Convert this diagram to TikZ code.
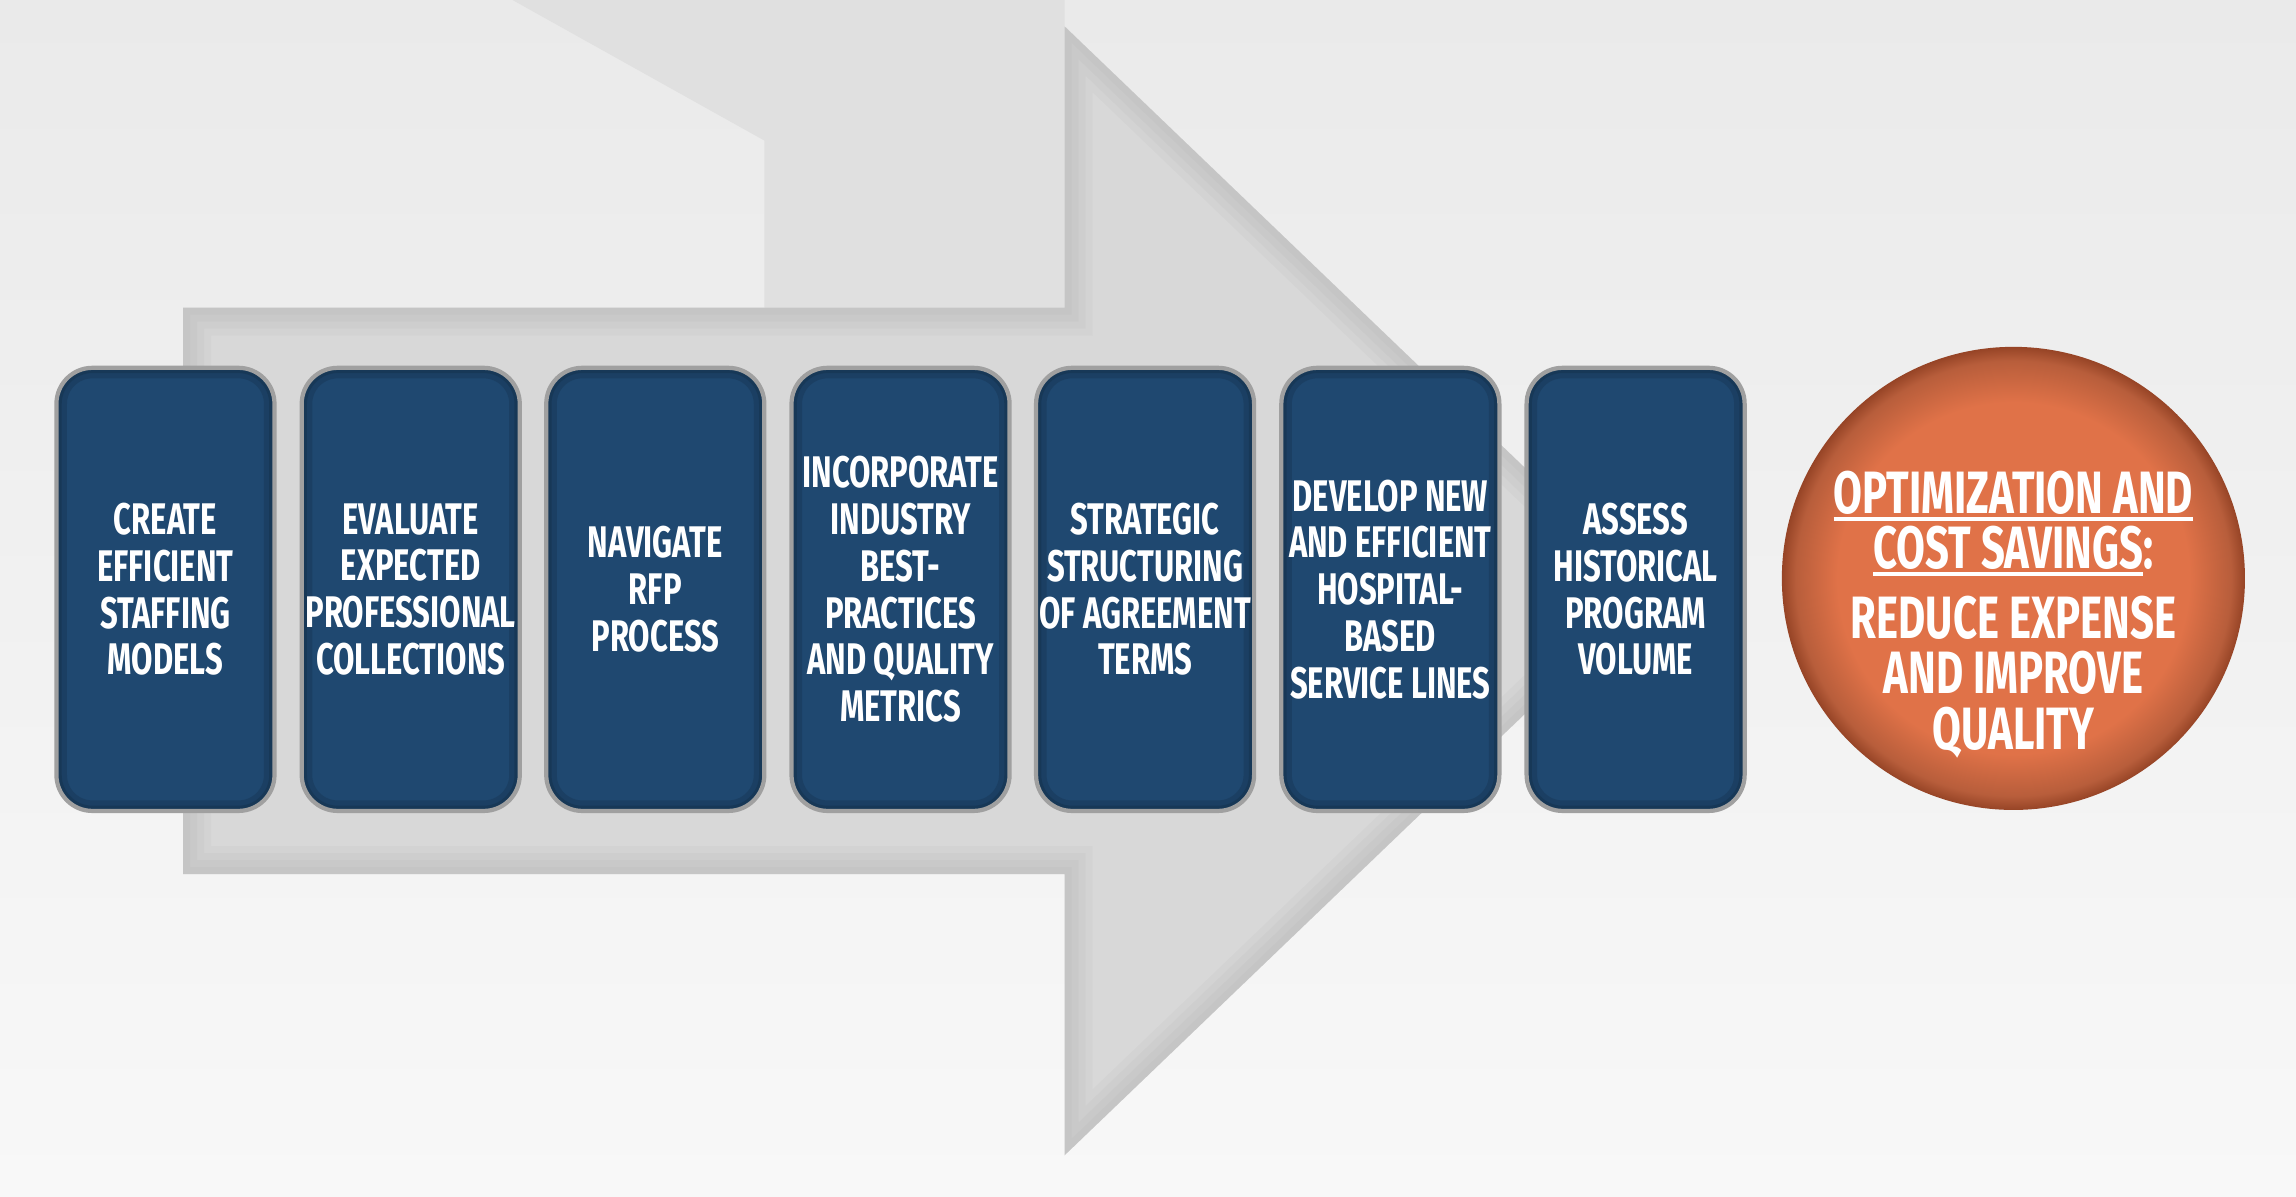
\documentclass[tikz,border=0pt]{standalone}
\usepackage{fontspec}
\newfontfamily\stagefont{Fira Sans}[FakeStretch=0.7]
\usepackage{tikz}
\usetikzlibrary{
	backgrounds,
	positioning,
	}
\definecolor{bgtop}{RGB}{234,234,234}
\definecolor{bgbottom}{RGB}{248,248,248}
\definecolor{bgfacet}{RGB}{224,224,224}
\definecolor{arrowgray}{RGB}{216,216,216}
\definecolor{arrowedge}{RGB}{110,110,110}
\definecolor{stageblue}{RGB}{31,72,112}
\definecolor{stagerim}{RGB}{160,160,160}
\definecolor{goalorange}{RGB}{224,114,72}
\definecolor{goalrim}{RGB}{150,68,38}
\pgfdeclareradialshading{goalshade}{\pgfpoint{0bp}{0bp}}{color(0bp)=(goalorange); color(19bp)=(goalorange); color(23.5bp)=(goalorange!82!black); color(25bp)=(goalrim); color(50bp)=(goalrim)}
\newcommand{\thickul}[1]{\setbox0=\hbox{#1}\rlap{\raisebox{-2.2pt}{\rule{\wd0}{1.2pt}}}\box0}

\begin{document}
\begin{tikzpicture}[x=0.1464mm,y=-0.1464mm,
	stage/.style={draw=stagerim,line width=1.2pt,fill=stageblue,rounded corners=3.6mm,minimum width=21.8mm,minimum height=44.3mm,inner sep=0pt,outer sep=0pt,text=white,align=center,font=\stagefont\bfseries\fontsize{12.6}{13.3}\selectfont,
		path picture={\draw[stageblue!55!black,line width=6pt,opacity=0.25,rounded corners=3.6mm] (path picture bounding box.south west) rectangle (path picture bounding box.north east);
			\draw[stageblue!55!black,line width=3pt,opacity=0.3,rounded corners=3.6mm] (path picture bounding box.south west) rectangle (path picture bounding box.north east);}},
	goal/.style={circle,minimum size=46.3mm,inner sep=0pt,outer sep=0pt,shading=goalshade},
	goaltext/.style={inner sep=0pt,text=white,align=center,font=\stagefont\bfseries\fontsize{17}{15.8}\selectfont},
	arrowshadow/.style={arrowedge,opacity=0.045,line join=miter}]
\useasboundingbox (0,0) rectangle (1568,817.4);
% background
\shade[top color=bgtop,bottom color=bgbottom] (0,0) rectangle (1568,817.4);
\fill[bgfacet] (350,0) -- (727,0) -- (727,210) -- (522,210) -- (522,96) -- cycle;
% big arrow behind the stages
\coordinate (tailnw) at (125,210);
\coordinate (necknw) at (727,210);
\coordinate (headn) at (727,18);
\coordinate (tip) at (1129,403.5);
\coordinate (heads) at (727,789);
\coordinate (necksw) at (727,597);
\coordinate (tailsw) at (125,597);
\begin{scope}
\clip (tailnw) -- (necknw) -- (headn) -- (tip) -- (heads) -- (necksw) -- (tailsw) -- cycle;
\fill[arrowgray] (0,0) rectangle (1568,817.4);
\draw[arrowshadow,line width=16pt] (tailnw) -- (necknw) -- (headn) -- (tip) -- (heads) -- (necksw) -- (tailsw) -- cycle;
\draw[arrowshadow,line width=12pt] (tailnw) -- (necknw) -- (headn) -- (tip) -- (heads) -- (necksw) -- (tailsw) -- cycle;
\draw[arrowshadow,line width=8pt] (tailnw) -- (necknw) -- (headn) -- (tip) -- (heads) -- (necksw) -- (tailsw) -- cycle;
\draw[arrowshadow,line width=4pt] (tailnw) -- (necknw) -- (headn) -- (tip) -- (heads) -- (necksw) -- (tailsw) -- cycle;
\end{scope}
% stages
\node[stage] (create) at (113,402.5) {CREATE\\EFFICIENT\\STAFFING\\MODELS};
\node[stage] (evaluate) at (280.5,402.5) {EVALUATE\\EXPECTED\\PROFESSIONAL\\COLLECTIONS};
\node[stage] (navigate) at (447.5,402.5) {NAVIGATE\\RFP\\PROCESS};
\node[stage] (incorporate) at (615,402.5) {INCORPORATE\\INDUSTRY\\BEST-\\PRACTICES\\AND QUALITY\\METRICS};
\node[stage] (strategic) at (782,402.5) {STRATEGIC\\STRUCTURING\\OF AGREEMENT\\TERMS};
\node[stage] (develop) at (949.5,402.5) {DEVELOP NEW\\AND EFFICIENT\\HOSPITAL-\\BASED\\SERVICE LINES};
\node[stage] (assess) at (1117,402.5) {ASSESS\\HISTORICAL\\PROGRAM\\VOLUME};
% goal
\node[goal] (goal) at (1375,395) {};
\node[goaltext] (goaltext) at ([yshift=-3.6mm]goal.center) {\thickul{OPTIMIZATION AND}\\\thickul{COST SAVINGS}:\\[4pt]REDUCE EXPENSE\\AND IMPROVE\\QUALITY};
\end{tikzpicture}
\end{document}
